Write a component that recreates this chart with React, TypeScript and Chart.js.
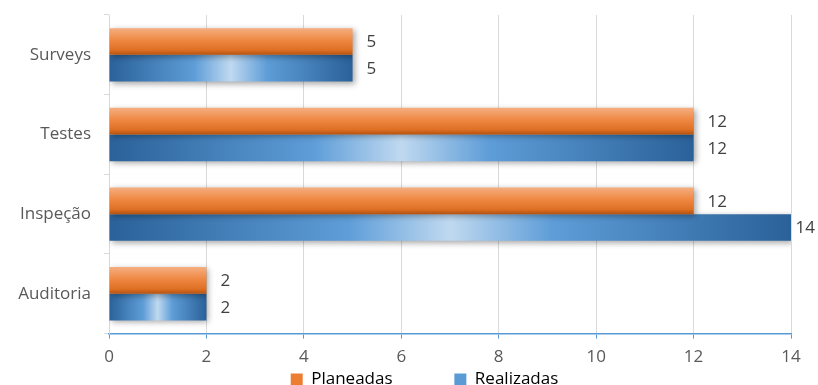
import React, { useEffect, useRef } from 'react';
import { Chart, registerables } from 'chart.js';

Chart.register(...registerables);

const categories = ['Surveys', 'Testes', 'Inspeção', 'Auditoria'];
const planeadas = [5, 12, 12, 2];
const realizadas = [5, 12, 14, 2];
const seriesNames = ['Planeadas', 'Realizadas'];
const xTicks = [0, 2, 4, 6, 8, 10, 12, 14];

const FONT = '"Open Sans", "DejaVu Sans", sans-serif';
const CAT_PCT = 0.67;
const LEGEND_DX = 29;
const LEGEND_DY = -4;

function barBounds(ctx: any) {
  const chart = ctx.chart;
  const xs = chart.scales && chart.scales.x;
  const ys = chart.scales && chart.scales.y;
  if (!xs || !ys || ctx.type !== 'data' || ys.bottom === undefined) return null;
  const i = ctx.dataIndex;
  const v = ctx.raw as number;
  const catH = (ys.bottom - ys.top) / categories.length;
  const th = (catH * CAT_PCT) / 2;
  const c = ys.getPixelForValue(i);
  const top = ctx.datasetIndex === 0 ? c - th : c;
  const left = xs.getPixelForValue(0);
  const right = xs.getPixelForValue(v);
  if (!isFinite(top) || !isFinite(left) || !isFinite(right)) return null;
  return { left, right, top, bottom: top + th };
}

function orangeFill(ctx: any) {
  const b = barBounds(ctx);
  if (!b) return '#ed7d31';
  const g = ctx.chart.ctx.createLinearGradient(0, b.top, 0, b.bottom);
  g.addColorStop(0, '#f5ae80');
  g.addColorStop(0.45, '#ef8843');
  g.addColorStop(0.82, '#de7024');
  g.addColorStop(1, '#b5520f');
  return g;
}

function blueFill(ctx: any) {
  const b = barBounds(ctx);
  if (!b) return '#5b9bd5';
  const g = ctx.chart.ctx.createLinearGradient(b.left, 0, b.right, 0);
  g.addColorStop(0, '#2a6199');
  g.addColorStop(0.35, '#5e9dd8');
  g.addColorStop(0.5, '#c0d9f0');
  g.addColorStop(0.65, '#5e9dd8');
  g.addColorStop(1, '#2a6199');
  return g;
}

const effectsPlugin = {
  id: 'effects',
  afterLayout(chart: any) {
    const lg = chart.legend;
    if (lg) {
      lg.left += LEGEND_DX;
      lg.right += LEGEND_DX;
      lg.top += LEGEND_DY;
      lg.bottom += LEGEND_DY;
    }
  },
  beforeDatasetsDraw(chart: any) {
    const c = chart.ctx;
    c.save();
    c.shadowColor = 'rgba(0,0,0,0.35)';
    c.shadowBlur = 6;
    c.shadowOffsetX = 2;
    c.shadowOffsetY = 2;
  },
  afterDatasetsDraw(chart: any) {
    const c = chart.ctx;
    c.restore();
    c.save();
    c.font = `17px ${FONT}`;
    c.fillStyle = '#404040';
    c.textBaseline = 'middle';
    c.textAlign = 'left';
    chart.data.datasets.forEach((ds: any, di: number) => {
      const meta = chart.getDatasetMeta(di);
      meta.data.forEach((el: any, i: number) => {
        const txt = String(ds.data[i]);
        const w = c.measureText(txt).width;
        const x = Math.min(el.x + 14, chart.width - 3 - w);
        c.fillText(txt, x, el.y + 1);
      });
    });
    c.restore();
  },
};

export default function App() {
  const ref = useRef<HTMLCanvasElement>(null);
  useEffect(() => {
    document.body.style.margin = '0';
    if (!ref.current) return;
    const chart = new Chart(ref.current, {
      type: 'bar',
      data: {
        labels: categories,
        datasets: [
          {
            label: seriesNames[0],
            data: planeadas,
            backgroundColor: orangeFill,
            borderWidth: 0,
            categoryPercentage: CAT_PCT,
            barPercentage: 1,
          },
          {
            label: seriesNames[1],
            data: realizadas,
            backgroundColor: blueFill,
            borderWidth: 0,
            categoryPercentage: CAT_PCT,
            barPercentage: 1,
          },
        ],
      },
      options: {
        indexAxis: 'y',
        responsive: false,
        animation: false,
        layout: { padding: { top: 15, right: 27, left: 0, bottom: -17 } },
        scales: {
          x: {
            min: xTicks[0],
            max: xTicks[xTicks.length - 1],
            ticks: {
              stepSize: xTicks[1] - xTicks[0],
              color: '#595959',
              font: { size: 17, family: FONT },
              padding: 8,
            },
            grid: {
              color: '#d9d9d9',
              tickColor: '#5b9bd5',
              tickLength: 5,
              lineWidth: 1,
            },
            border: { color: '#5b9bd5', width: 1.5 },
          },
          y: {
            ticks: {
              color: '#595959',
              font: { size: 17, family: FONT },
              padding: 13,
            },
            grid: {
              drawOnChartArea: false,
              tickLength: 5,
              tickColor: '#d9d9d9',
              offset: true,
            },
            border: { color: '#d9d9d9', width: 1 },
            afterFit: (s: any) => {
              s.width = 109;
              s.paddingTop = 0;
              s.paddingBottom = 0;
            },
          },
        },
        plugins: {
          tooltip: { enabled: false },
          legend: {
            position: 'bottom',
            labels: {
              font: { size: 17, family: FONT },
              color: '#595959',
              boxWidth: 12,
              boxHeight: 12,
              padding: 0,
              generateLabels: () => [
                {
                  text: seriesNames[0] + ' '.repeat(14),
                  fillStyle: '#ed7d31',
                  strokeStyle: '#ed7d31',
                  lineWidth: 0,
                  hidden: false,
                  datasetIndex: 0,
                },
                {
                  text: seriesNames[1],
                  fillStyle: '#5b9bd5',
                  strokeStyle: '#5b9bd5',
                  lineWidth: 0,
                  hidden: false,
                  datasetIndex: 1,
                },
              ],
            },
          },
        },
      },
      plugins: [effectsPlugin],
    } as any);
    return () => chart.destroy();
  }, []);
  return <canvas ref={ref} width={818} height={385} style={{ display: 'block' }} />;
}
